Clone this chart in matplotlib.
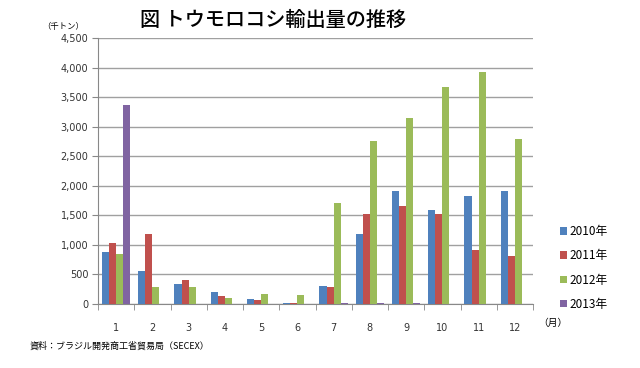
import matplotlib
matplotlib.use("Agg")
import matplotlib.pyplot as plt
import numpy as np

plt.rcParams['font.family'] = ['DejaVu Sans', 'Noto Sans CJK JP']

months = ['1', '2', '3', '4', '5', '6', '7', '8', '9', '10', '11', '12']
series_names = ['2010年', '2011年', '2012年', '2013年']
v2010 = [880, 560, 340, 210, 90, 20, 300, 1190, 1920, 1590, 1830, 1920]
v2011 = [1030, 1190, 400, 130, 60, 20, 280, 1530, 1660, 1530, 910, 810]
v2012 = [850, 280, 280, 100, 170, 150, 1710, 2760, 3150, 3670, 3920, 2790]
v2013 = [3370, 0, 0, 0, 0, 0, 20, 15, 20, 0, 0, 0]
colors = ['#4F81BD', '#C0504D', '#9BBB59', '#8064A2']

fig = plt.figure(figsize=(6.4, 3.68), dpi=100)
ax = fig.add_axes([98/640, 1-304/368, (533-98)/640, (304-38)/368])

x = np.arange(len(months))
w = 0.195
for i, (vals, c, name) in enumerate(zip([v2010, v2011, v2012, v2013], colors, series_names)):
    ax.bar(x + (i - 1.5) * w, vals, width=w, color=c, label=name, zorder=3)

ax.set_xlim(-0.5, 11.5)
ax.set_ylim(0, 4500)
ax.set_yticks(np.arange(0, 4501, 500))
ax.set_yticklabels([f'{v:,}' for v in range(0, 4501, 500)], fontsize=7, color='#333333')
ax.set_xticks(x)
ax.set_xticklabels(months, fontsize=7, color='#333333')
ax.set_xticks(np.arange(-0.5, 11.6, 1), minor=True)
ax.tick_params(axis='x', which='major', length=0, pad=14)
ax.tick_params(axis='x', which='minor', length=4, color='#888888', direction='out')
ax.tick_params(axis='y', length=4, color='#888888', direction='out', pad=3)
ax.grid(axis='y', color='#A0A0A0', linewidth=1, zorder=0)
for s in ['top', 'right']:
    ax.spines[s].set_visible(False)
for s in ['left', 'bottom']:
    ax.spines[s].set_color('#888888')

cjk = ['Noto Sans CJK JP', 'DejaVu Sans']
fig.text(140/640, 1-20/368, '図 トウモロコシ輸出量の推移', fontsize=14.5, fontweight='medium',
         va='center', ha='left', family=cjk)
fig.text(42/640, 1-27/368, '（千トン）', fontsize=6, va='center', ha='left', family=cjk)
fig.text(538/640, 1-323/368, '（月）', fontsize=7, va='center', ha='left', family=cjk)
fig.text(30/640, 1-346/368, '資料：ブラジル開発商工省貿易局（SECEX）', fontsize=6.5, va='center',
         ha='left', family=cjk)

leg = fig.legend(loc='center left', bbox_to_anchor=(555/640, 1-268/368), frameon=False,
                 handlelength=0.6, handleheight=0.6, handletextpad=0.25,
                 labelspacing=0.95, borderaxespad=0, prop={'family': cjk, 'size': 8.5})

fig.savefig('out.png', dpi=100)
